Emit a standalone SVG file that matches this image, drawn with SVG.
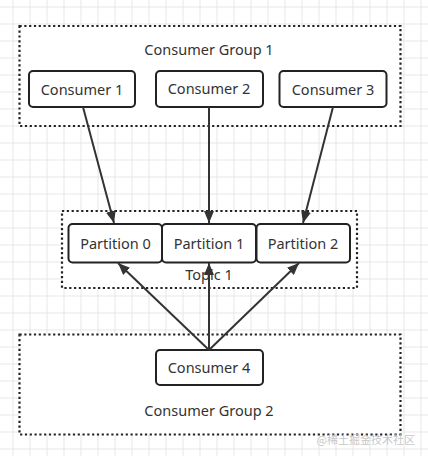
<svg xmlns="http://www.w3.org/2000/svg" width="428" height="456" viewBox="0 0 428 456">
<defs>
<pattern id="grid" x="12.5" y="6.5" width="17" height="17" patternUnits="userSpaceOnUse">
<path d="M0 0.5H17M0.5 0V17" fill="none" stroke="#e6e6e6" stroke-width="1"/>
</pattern>
<marker id="arr" viewBox="0 0 12 10" refX="12" refY="5" markerWidth="12" markerHeight="10" markerUnits="userSpaceOnUse" orient="auto">
<path d="M0 0L12 5L0 10Z" fill="#333"/>
</marker>
<style>
.grp{fill:#fff;stroke:#222;stroke-width:2.2;stroke-dasharray:2.2 2.6}
.box{fill:#fff;stroke:#222;stroke-width:2}
.t{font-family:"Noto Sans","Open Sans",sans-serif;font-size:14.5px;fill:#333;text-anchor:middle}
.c{stroke:#333;stroke-width:2;fill:none;marker-end:url(#arr)}
</style>
</defs>
<rect width="428" height="456" fill="#fff"/>
<rect width="428" height="456" fill="url(#grid)"/>
<g id="group1">
<rect class="grp" x="19.5" y="26" width="381" height="100"/>
<text class="t" x="209" y="55">Consumer Group 1</text>
</g>
<g id="group2">
<rect class="grp" x="19.5" y="334.5" width="381" height="100"/>
<text class="t" x="209" y="416">Consumer Group 2</text>
</g>
<g id="topic1">
<rect class="grp" x="62" y="211" width="295" height="77"/>
<text class="t" x="209" y="280">Topic 1</text>
</g>
<g id="consumer1">
<rect class="box" x="29" y="71" width="106" height="36" rx="4"/>
<text class="t" x="82" y="95">Consumer 1</text>
</g>
<g id="consumer2">
<rect class="box" x="156" y="71" width="107" height="36" rx="4"/>
<text class="t" x="209" y="94">Consumer 2</text>
</g>
<g id="consumer3">
<rect class="box" x="279.5" y="71" width="107" height="36" rx="4"/>
<text class="t" x="333" y="95">Consumer 3</text>
</g>
<g id="partition0">
<rect class="box" x="68.5" y="224" width="93.5" height="38.5" rx="4"/>
<text class="t" x="115.5" y="249">Partition 0</text>
</g>
<g id="partition1">
<rect class="box" x="162" y="224" width="94" height="38.5" rx="4"/>
<text class="t" x="209" y="249">Partition 1</text>
</g>
<g id="partition2">
<rect class="box" x="256.5" y="224" width="93.5" height="38.5" rx="4"/>
<text class="t" x="303" y="249">Partition 2</text>
</g>
<g id="consumer4">
<rect class="box" x="156" y="350" width="107" height="35" rx="4"/>
<text class="t" x="209" y="373">Consumer 4</text>
</g>
<g id="connectors">
<line class="c" x1="83" y1="107" x2="114" y2="223"/>
<line class="c" x1="209" y1="107" x2="209" y2="223"/>
<line class="c" x1="333" y1="107" x2="303" y2="223"/>
<line class="c" x1="209" y1="350" x2="118" y2="263"/>
<line class="c" x1="209" y1="350" x2="209" y2="263"/>
<line class="c" x1="209" y1="350" x2="299" y2="263"/>
</g>
<text x="415" y="444" text-anchor="end" font-family="Noto Sans CJK SC,sans-serif" font-size="11" fill="#c8c8c8">@稀土掘金技术社区</text>
</svg>
